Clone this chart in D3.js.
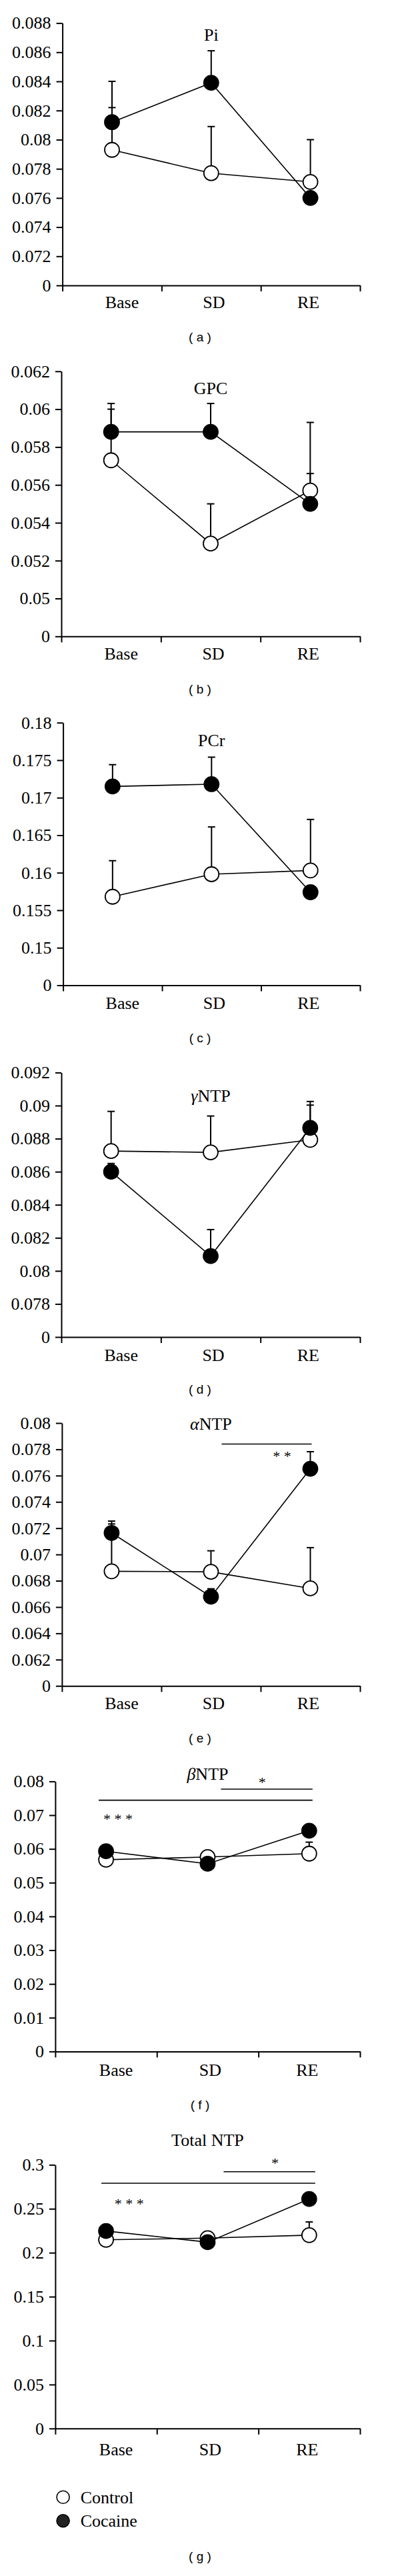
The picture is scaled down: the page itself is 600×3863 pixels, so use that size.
<!DOCTYPE html>
<html><head><meta charset="utf-8">
<script src="https://cdn.jsdelivr.net/npm/d3@7/dist/d3.min.js"></script>
<style>body{margin:0;background:#fff}svg{display:block}</style>
</head><body><svg id="chart" width="600" height="3863"></svg>
<script>
// ---------------- DATA ----------------
const categories = ["Base", "SD", "RE"];
const seriesNames = ["Control", "Cocaine"];

// (a) Pi
const piControl = [0.0793, 0.0777, 0.0771];
const piControlErr = [0.0029, 0.0032, 0.0029];
const piCocaine = [0.0812, 0.0839, 0.0760];
const piCocaineErr = [0.0028, 0.0022, 0.0003];
const piTicks = [0.070, 0.072, 0.074, 0.076, 0.078, 0.080, 0.082, 0.084, 0.086, 0.088];
const piTickLabels = ["0", "0.072", "0.074", "0.076", "0.078", "0.08", "0.082", "0.084", "0.086", "0.088"];

// (b) GPC
const gpcControl = [0.0573, 0.0529, 0.0557];
const gpcControlErr = [0.0027, 0.0021, 0.0036];
const gpcCocaine = [0.0588, 0.0588, 0.0550];
const gpcCocaineErr = [0.0015, 0.0015, 0.0016];
const gpcTicks = [0.048, 0.050, 0.052, 0.054, 0.056, 0.058, 0.060, 0.062];
const gpcTickLabels = ["0", "0.05", "0.052", "0.054", "0.056", "0.058", "0.06", "0.062"];

// (c) PCr
const pcrControl = [0.1568, 0.1598, 0.1603];
const pcrControlErr = [0.0048, 0.0063, 0.0068];
const pcrCocaine = [0.1715, 0.1718, 0.1574];
const pcrCocaineErr = [0.0029, 0.0036, 0.0005];
const pcrTicks = [0.145, 0.150, 0.155, 0.160, 0.165, 0.170, 0.175, 0.180];
const pcrTickLabels = ["0", "0.15", "0.155", "0.16", "0.165", "0.17", "0.175", "0.18"];

// (d) gamma NTP
const gntpControl = [0.08725, 0.08717, 0.08793];
const gntpControlErr = [0.0024, 0.0022, 0.0021];
const gntpCocaine = [0.0860, 0.0809, 0.08865];
const gntpCocaineErr = [0.0005, 0.0016, 0.0016];
const gntpTicks = [0.076, 0.078, 0.080, 0.082, 0.084, 0.086, 0.088, 0.090, 0.092];
const gntpTickLabels = ["0", "0.078", "0.08", "0.082", "0.084", "0.086", "0.088", "0.09", "0.092"];

// (e) alpha NTP
const antpControl = [0.06872, 0.06868, 0.06742];
const antpControlErr = [0.0036, 0.0016, 0.0031];
const antpCocaine = [0.07164, 0.06679, 0.07652];
const antpCocaineErr = [0.0009, 0.0006, 0.0013];
const antpTicks = [0.060, 0.062, 0.064, 0.066, 0.068, 0.070, 0.072, 0.074, 0.076, 0.078, 0.080];
const antpTickLabels = ["0", "0.062", "0.064", "0.066", "0.068", "0.07", "0.072", "0.074", "0.076", "0.078", "0.08"];

// (f) beta NTP
const bntpControl = [0.0568, 0.0576, 0.0586];
const bntpControlErr = [0.0010, 0.0010, 0.0034];
const bntpCocaine = [0.0593, 0.0556, 0.0654];
const bntpCocaineErr = [0.0010, 0.0010, 0.0010];
const bntpTicks = [0, 0.01, 0.02, 0.03, 0.04, 0.05, 0.06, 0.07, 0.08];
const bntpTickLabels = ["0", "0.01", "0.02", "0.03", "0.04", "0.05", "0.06", "0.07", "0.08"];

// (g) Total NTP
const tntpControl = [0.2147, 0.2166, 0.2200];
const tntpControlErr = [0.004, 0.004, 0.015];
const tntpCocaine = [0.2247, 0.2120, 0.2611];
const tntpCocaineErr = [0.004, 0.004, 0.004];
const tntpTicks = [0, 0.05, 0.10, 0.15, 0.20, 0.25, 0.30];
const tntpTickLabels = ["0", "0.05", "0.1", "0.15", "0.2", "0.25", "0.3"];

// significance annotations
const antpSig = [{from: "SD", to: "RE", y: 0.0784, text: "* *"}];
const bntpSig = [{from: "SD", to: "RE", y: 0.0777, text: "*"}, {from: "Base", to: "RE", y: 0.07443, text: "* * *"}];
const tntpSig = [{from: "SD", to: "RE", y: 0.2921, text: "*"}, {from: "Base", to: "RE", y: 0.2791, text: "* * *"}];

// ---------------- LAYOUT / STYLE ----------------
const SERIF = "'Liberation Serif','Times New Roman',serif";
const SANS = "'Liberation Sans',Arial,sans-serif";
const RIGHT = 540;
const catLabelDx = [15, 4, -3];
const sigStyle = {
  antp: [{x1: 16, x2: 2, pos: 0.67, dy: 25}],
  bntp: [{x1: 20, x2: 5, pos: 0.45, dy: -3}, {x1: -11, x2: 5, pos: 0.09, dy: 35}],
  tntp: [{x1: 24, x2: 9, pos: 0.56, dy: -6}, {x1: -7, x2: 9, pos: 0.13, dy: 38}]
};

const panels = [
  {title: [["Pi", false]], control: piControl, cErr: piControlErr, cocaine: piCocaine, kErr: piCocaineErr,
   ticks: piTicks, labels: piTickLabels, caption: "( a )",
   top: 34.6, bottom: 428, axisX: 93.6, titleY: 60.5, captionY: 512, labelGap: 34},
  {title: [["GPC", false]], control: gpcControl, cErr: gpcControlErr, cocaine: gpcCocaine, kErr: gpcCocaineErr,
   ticks: gpcTicks, labels: gpcTickLabels, caption: "( b )",
   top: 556.8, bottom: 954.3, axisX: 92, titleY: 590.5, captionY: 1039.6, labelGap: 34.5},
  {title: [["PCr", false]], control: pcrControl, cErr: pcrControlErr, cocaine: pcrCocaine, kErr: pcrCocaineErr,
   ticks: pcrTicks, labels: pcrTickLabels, caption: "( c )",
   top: 1083.7, bottom: 1477.5, axisX: 94.6, titleY: 1119, captionY: 1563, labelGap: 35.5},
  {title: [["γ", true], ["NTP", false]], control: gntpControl, cErr: gntpControlErr, cocaine: gntpCocaine, kErr: gntpCocaineErr,
   ticks: gntpTicks, labels: gntpTickLabels, caption: "( d )",
   top: 1608.4, bottom: 2005, axisX: 92, titleY: 1652, captionY: 2089.6, labelGap: 35.5},
  {title: [["α", true], ["NTP", false]], control: antpControl, cErr: antpControlErr, cocaine: antpCocaine, kErr: antpCocaineErr,
   ticks: antpTicks, labels: antpTickLabels, caption: "( e )", sig: antpSig, sigStyle: sigStyle.antp,
   top: 2134, bottom: 2528.2, axisX: 92.9, titleY: 2143.5, captionY: 2613, labelGap: 35},
  {title: [["β", true], ["NTP", false]], control: bntpControl, cErr: bntpControlErr, cocaine: bntpCocaine, kErr: bntpCocaineErr,
   ticks: bntpTicks, labels: bntpTickLabels, caption: "( f )", sig: bntpSig, sigStyle: sigStyle.bntp,
   top: 2671.4, bottom: 3076.4, axisX: 82.9, titleY: 2668.5, captionY: 3163, labelGap: 36.5},
  {title: [["Total NTP", false]], control: tntpControl, cErr: tntpControlErr, cocaine: tntpCocaine, kErr: tntpCocaineErr,
   ticks: tntpTicks, labels: tntpTickLabels, caption: "( g )", sig: tntpSig, sigStyle: sigStyle.tntp,
   top: 3246.4, bottom: 3641.8, axisX: 82.9, titleY: 3217.5, captionY: 3839.6, labelGap: 40.5, legend: true}
];

const svg = d3.select("#chart");
svg.append("rect").attr("width", 600).attr("height", 3863).attr("fill", "#fff");

panels.forEach(p => {
  const g = svg.append("g");
  const y = d3.scaleLinear().domain([p.ticks[0], p.ticks[p.ticks.length - 1]]).range([p.bottom, p.top]);
  const x = d3.scaleBand().domain(categories).range([p.axisX, RIGHT]);
  const cx = c => x(c) + x.bandwidth() / 2;
  const xb = d3.scaleLinear().domain([0, 3]).range([p.axisX, RIGHT]);

  // y axis
  const ya = g.append("g").attr("transform", `translate(${p.axisX},0)`)
    .call(d3.axisLeft(y).tickValues(p.ticks).tickFormat((d, i) => p.labels[i])
      .tickSize(9).tickSizeOuter(0).tickPadding(8));
  ya.select(".domain").attr("stroke", "#000").attr("stroke-width", 2);
  ya.selectAll(".tick line").attr("stroke", "#000").attr("stroke-width", 2);
  ya.selectAll(".tick text").attr("font-family", SERIF).attr("font-size", 26).attr("fill", "#000");

  // x axis
  const xa = g.append("g").attr("transform", `translate(0,${p.bottom})`)
    .call(d3.axisBottom(xb).tickValues([0, 1, 2, 3]).tickFormat("").tickSize(9).tickSizeOuter(0));
  xa.select(".domain").attr("stroke", "#000").attr("stroke-width", 2);
  xa.selectAll(".tick line").attr("stroke", "#000").attr("stroke-width", 2);

  g.selectAll(".cat").data(categories).enter().append("text")
    .attr("x", (d, i) => cx(d) + catLabelDx[i]).attr("y", p.bottom + p.labelGap)
    .attr("text-anchor", "middle").attr("font-family", SERIF).attr("font-size", 26).text(d => d);

  // title
  const t = g.append("text").attr("x", cx("SD")).attr("y", p.titleY)
    .attr("text-anchor", "middle").attr("font-family", SERIF).attr("font-size", 26);
  p.title.forEach(([s, it]) => t.append("tspan").attr("font-style", it ? "italic" : "normal").text(s));

  // caption
  g.append("text").attr("x", 300).attr("y", p.captionY).attr("text-anchor", "middle")
    .attr("font-family", SANS).attr("font-size", 19).text(p.caption);

  // significance
  (p.sig || []).forEach((s, i) => {
    const st = p.sigStyle[i];
    const x1 = cx(s.from) + st.x1, x2 = cx(s.to) + st.x2, yy = y(s.y);
    g.append("line").attr("x1", x1).attr("x2", x2).attr("y1", yy).attr("y2", yy)
      .attr("stroke", "#000").attr("stroke-width", 1.6);
    g.append("text").attr("x", x1 + (x2 - x1) * st.pos).attr("y", yy + st.dy)
      .attr("text-anchor", "middle").attr("font-family", SERIF).attr("font-size", 22)
      .attr("xml:space", "preserve").style("white-space", "pre").text(s.text);
  });

  const series = [
    {vals: p.control, err: p.cErr, fill: "#fff"},
    {vals: p.cocaine, err: p.kErr, fill: "#000"}
  ];
  const line = d3.line().x((d, i) => cx(categories[i])).y(d => y(d));

  series.forEach(s => {
    g.append("path").attr("d", line(s.vals)).attr("fill", "none").attr("stroke", "#000").attr("stroke-width", 1.6);
  });
  series.forEach(s => {
    s.vals.forEach((v, i) => {
      const xc = cx(categories[i]), top = y(v + s.err[i]);
      g.append("line").attr("x1", xc).attr("x2", xc).attr("y1", y(v)).attr("y2", top)
        .attr("stroke", "#000").attr("stroke-width", 2);
      g.append("line").attr("x1", xc - 5.5).attr("x2", xc + 5.5).attr("y1", top).attr("y2", top)
        .attr("stroke", "#000").attr("stroke-width", 2);
    });
  });
  series.forEach(s => {
    g.selectAll(null).data(s.vals).enter().append("circle")
      .attr("cx", (d, i) => cx(categories[i])).attr("cy", d => y(d)).attr("r", 11)
      .attr("fill", s.fill).attr("stroke", "#000").attr("stroke-width", 1.8);
  });

  if (p.legend) {
    const ly = d3.scaleBand().domain(seriesNames).range([3727, 3798]);
    const lg = g.append("g");
    seriesNames.forEach((nm, i) => {
      const yc = ly(nm) + ly.bandwidth() / 2;
      lg.append("circle").attr("cx", 94.6).attr("cy", yc).attr("r", 9.5)
        .attr("fill", i === 0 ? "#fff" : "#222").attr("stroke", "#000").attr("stroke-width", 1.6);
      lg.append("text").attr("x", 120.7).attr("y", yc + 9).attr("font-family", SERIF)
        .attr("font-size", 26).text(nm);
    });
  }
});
</script></body></html>
